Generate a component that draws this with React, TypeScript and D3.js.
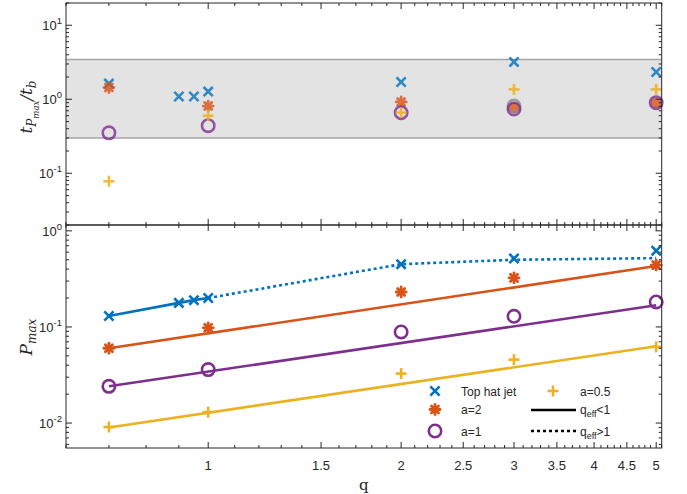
import React from "react";
import * as d3 from "d3";

// ---------- data ----------
const xTickValues = [1, 1.5, 2, 2.5, 3, 3.5, 4, 4.5, 5];
const xTickLabels = ["1", "1.5", "2", "2.5", "3", "3.5", "4", "4.5", "5"];

// top panel: t_Pmax / t_b
const topBlueQ = [0.7, 0.9, 0.95, 1, 2, 3, 5];
const topBlue = [1.63, 1.09, 1.09, 1.27, 1.71, 3.2, 2.34];
const topQ = [0.7, 1, 2, 3, 5];
const topOrange = [1.44, 0.81, 0.92, 0.77, 0.9];
const topPurple = [0.352, 0.44, 0.66, 0.74, 0.9];
const topYellow = [0.078, 0.6, 0.66, 1.36, 1.36];
const topGrayQ = [3];
const topGray = [0.81];
const bandRange = [0.3, 3.45];

// bottom panel: P_max
const botBlueQ = [0.7, 0.9, 0.95, 1, 2, 3, 5];
const botBlue = [0.13, 0.178, 0.19, 0.2, 0.45, 0.515, 0.62];
const botQ = [0.7, 1, 2, 3, 5];
const botOrange = [0.06, 0.098, 0.231, 0.324, 0.44];
const botPurple = [0.0241, 0.036, 0.0887, 0.129, 0.182];
const botYellow = [0.0091, 0.013, 0.0327, 0.0457, 0.062];

const blueSolidQ = [0.7, 0.9, 0.95, 1];
const blueSolid = [0.13, 0.178, 0.19, 0.2];
const blueDotQ = [1, 2, 3, 5];
const blueDot = [0.2, 0.45, 0.5, 0.52];
const fitQ = [0.7, 5];
const orangeFit = [0.06, 0.43];
const purpleFit = [0.0241, 0.168];
const yellowFit = [0.009, 0.063];

const legendLabels = ["Top hat jet", "a=2", "a=1", "a=0.5"];

// ---------- styles ----------
const BLUE = "#0072BD";
const ORANGE = "#D95319";
const YELLOW = "#EDB120";
const PURPLE = "#7E2F8E";
const FONT = "'Liberation Sans', Arial, sans-serif";
const SERIF = "'DejaVu Serif', 'Liberation Serif', serif";

const W = 687;
const H = 494;
const L = 66;
const R = 661.7;
const T1 = 3;
const B1 = 225;
const T2 = 225;
const B2 = 448;

const x = d3.scaleLog().domain([0.6, 5.1]).range([L, R]);
const yTop = d3.scaleLog().domain([0.02, 20]).range([B1, T1]);
const yBot = d3.scaleLog().domain([0.0055, 1.15]).range([B2, T2]);

type MarkerKind = "x" | "o" | "+" | "*" | "dot";

function Marker({ kind, cx, cy, color, opacity = 1, fill = "none" }: { kind: MarkerKind; cx: number; cy: number; color: string; opacity?: number; fill?: string }) {
  const s = 4.6;
  const sw = 2.6;
  if (kind === "x") {
    return (
      <g stroke={color} strokeWidth={sw} opacity={opacity}>
        <line x1={cx - s} y1={cy - s} x2={cx + s} y2={cy + s} />
        <line x1={cx - s} y1={cy + s} x2={cx + s} y2={cy - s} />
      </g>
    );
  }
  if (kind === "+") {
    const p = 5.5;
    return (
      <g stroke={color} strokeWidth={sw} opacity={opacity}>
        <line x1={cx - p} y1={cy} x2={cx + p} y2={cy} />
        <line x1={cx} y1={cy - p} x2={cx} y2={cy + p} />
      </g>
    );
  }
  if (kind === "o") {
    return <circle cx={cx} cy={cy} r={6.2} fill={fill} stroke={color} strokeWidth={2.6} opacity={opacity} />;
  }
  if (kind === "dot") {
    return <circle cx={cx} cy={cy} r={5.5} fill={color} opacity={opacity} />;
  }
  // asterisk
  const a = 5;
  const d = a * 0.7071;
  return (
    <g stroke={color} strokeWidth={2.8} opacity={opacity} strokeLinecap="round">
      <line x1={cx - a} y1={cy} x2={cx + a} y2={cy} />
      <line x1={cx} y1={cy - a} x2={cx} y2={cy + a} />
      <line x1={cx - d} y1={cy - d} x2={cx + d} y2={cy + d} />
      <line x1={cx - d} y1={cy + d} x2={cx + d} y2={cy - d} />
      <circle cx={cx} cy={cy} r={3} fill={color} stroke="none" />
    </g>
  );
}

function LogYAxis({ scale, top, bottom, decades }: { scale: d3.ScaleLogarithmic<number, number>; top: number; bottom: number; decades: number[] }) {
  const [d0, d1] = scale.domain();
  const minors: number[] = [];
  for (let e = Math.floor(Math.log10(d0)); e <= Math.ceil(Math.log10(d1)); e++) {
    for (let m = 1; m <= 9; m++) {
      const v = m * Math.pow(10, e);
      if (v >= d0 && v <= d1) minors.push(v);
    }
  }
  return (
    <g>
      {minors.map((v, i) => {
        const y = scale(v);
        const major = decades.some((dd) => Math.abs(dd - v) < 1e-9);
        const len = major ? 6 : 3;
        return (
          <g key={i} stroke="#262626" strokeWidth={1}>
            <line x1={L} x2={L + len} y1={y} y2={y} />
            <line x1={R} x2={R - len} y1={y} y2={y} />
          </g>
        );
      })}
      {decades.map((v, i) => {
        const y = scale(v);
        const e = Math.round(Math.log10(v));
        return (
          <text key={"l" + i} x={62} y={y + 5} textAnchor="end" fontFamily={FONT} fontSize={13} fill="#262626">
            10
            <tspan dy={-6} fontSize={9.5}>{String(e)}</tspan>
          </text>
        );
      })}
    </g>
  );
}

function XTicks({ yB, yT }: { yB: number; yT: number }) {
  const minors: number[] = [];
  for (let k = 6; k <= 51; k++) minors.push(k / 10);
  return (
    <g stroke="#262626" strokeWidth={1}>
      {minors.map((v, i) => {
        const major = xTickValues.some((t) => Math.abs(t - v) < 1e-9);
        const len = major ? 6 : 3;
        const xx = x(v);
        return (
          <g key={i}>
            <line x1={xx} x2={xx} y1={yB} y2={yB - len} />
            <line x1={xx} x2={xx} y1={yT} y2={yT + len} />
          </g>
        );
      })}
    </g>
  );
}

export default function App() {
  const lineTop = d3.line<[number, number]>().x((d) => x(d[0])).y((d) => yBot(d[1]));
  const zip = (q: number[], v: number[]) => q.map((qq, i) => [qq, v[i]] as [number, number]);

  return (
    <svg width={W} height={H} style={{ position: "absolute", left: 0, top: 0, background: "#fff" }}>
      {/* ---------- top panel ---------- */}
      <rect x={L} y={T1} width={R - L} height={B1 - T1} fill="#fff" />
      <rect x={L} y={yTop(bandRange[1])} width={R - L} height={yTop(bandRange[0]) - yTop(bandRange[1])} fill="#e3e3e3" />
      <line x1={L} x2={R} y1={yTop(bandRange[1])} y2={yTop(bandRange[1])} stroke="#a6a6a6" strokeWidth={1.5} />
      <line x1={L} x2={R} y1={yTop(bandRange[0])} y2={yTop(bandRange[0])} stroke="#a6a6a6" strokeWidth={1.5} />

      {topBlueQ.map((q, i) => (
        <Marker key={"tb" + i} kind="x" cx={x(q)} cy={yTop(topBlue[i])} color={BLUE} opacity={0.8} />
      ))}
      {topQ.map((q, i) => (
        <Marker key={"to" + i} kind={q >= 3 ? "dot" : "*"} cx={x(q)} cy={yTop(topOrange[i])} color={ORANGE} opacity={0.8} />
      ))}
      {topGrayQ.map((q, i) => (
        <Marker key={"tg" + i} kind="o" cx={x(q)} cy={yTop(topGray[i])} color="#8a8a8a" opacity={0.8} />
      ))}
      {topQ.map((q, i) => (
        <Marker key={"tp" + i} kind="o" cx={x(q)} cy={yTop(topPurple[i])} color={PURPLE} opacity={0.8} />
      ))}
      {topQ.map((q, i) => (
        <Marker key={"ty" + i} kind="+" cx={x(q)} cy={yTop(topYellow[i])} color={YELLOW} opacity={0.85} />
      ))}
      <LogYAxis scale={yTop} top={T1} bottom={B1} decades={[0.1, 1, 10]} />
      <XTicks yB={B1} yT={T1} />
      <rect x={L} y={T1} width={R - L} height={B1 - T1} fill="none" stroke="#262626" strokeWidth={1} />

      {/* ---------- bottom panel ---------- */}
      <path d={lineTop(zip(fitQ, yellowFit)) || ""} stroke={YELLOW} strokeWidth={2.6} fill="none" />
      <path d={lineTop(zip(fitQ, purpleFit)) || ""} stroke={PURPLE} strokeWidth={2.6} fill="none" />
      <path d={lineTop(zip(fitQ, orangeFit)) || ""} stroke={ORANGE} strokeWidth={2.6} fill="none" />
      <path d={lineTop(zip(blueSolidQ, blueSolid)) || ""} stroke={BLUE} strokeWidth={2.6} fill="none" />
      <path d={lineTop(zip(blueDotQ, blueDot)) || ""} stroke={BLUE} strokeWidth={2.6} fill="none" strokeDasharray="3,3" />

      {botBlueQ.map((q, i) => (
        <Marker key={"bb" + i} kind="x" cx={x(q)} cy={yBot(botBlue[i])} color={BLUE} />
      ))}
      {botQ.map((q, i) => (
        <Marker key={"bo" + i} kind="*" cx={x(q)} cy={yBot(botOrange[i])} color={ORANGE} />
      ))}
      {botQ.map((q, i) => (
        <Marker key={"bp" + i} kind="o" cx={x(q)} cy={yBot(botPurple[i])} color={PURPLE} />
      ))}
      {botQ.map((q, i) => (
        <Marker key={"by" + i} kind="+" cx={x(q)} cy={yBot(botYellow[i])} color={YELLOW} />
      ))}

      <LogYAxis scale={yBot} top={T2} bottom={B2} decades={[0.01, 0.1, 1]} />
      <XTicks yB={B2} yT={T2} />
      <rect x={L} y={T2} width={R - L} height={B2 - T2} fill="none" stroke="#262626" strokeWidth={1} />

      {/* x tick labels */}
      {xTickValues.map((v, i) => (
        <text key={"xt" + i} x={x(v)} y={470} textAnchor="middle" fontFamily={FONT} fontSize={13} fill="#262626">
          {xTickLabels[i]}
        </text>
      ))}
      <text x={(L + R) / 2} y={490} textAnchor="middle" fontFamily={SERIF} fontSize={15} fill="#262626">q</text>

      {/* y labels */}
      <g transform="translate(32,107) rotate(-90)">
        <text textAnchor="middle" fontFamily={SERIF} fontStyle="italic" fontSize={17} fill="#262626">
          t<tspan dy={4} fontSize={12}>P</tspan>
          <tspan dy={3} fontSize={8.5}>max</tspan>
          <tspan dy={-7} fontSize={17}>/t</tspan>
          <tspan dy={4} fontSize={12}>b</tspan>
        </text>
      </g>
      <g transform="translate(32,337) rotate(-90)">
        <text textAnchor="middle" fontFamily={SERIF} fontStyle="italic" fontSize={17} fill="#262626">
          P<tspan dy={4} fontSize={12}>max</tspan>
        </text>
      </g>

      {/* legend */}
      <g fontFamily={FONT} fontSize={12} fill="#262626">
        <Marker kind="x" cx={435} cy={391} color={BLUE} />
        <text x={461} y={395.5}>{legendLabels[0]}</text>
        <Marker kind="*" cx={435} cy={409.5} color={ORANGE} />
        <text x={461} y={414}>{legendLabels[1]}</text>
        <Marker kind="o" cx={435} cy={431} color={PURPLE} />
        <text x={461} y={435.5}>{legendLabels[2]}</text>

        <Marker kind="+" cx={553} cy={391} color={YELLOW} />
        <text x={580} y={395.5}>{legendLabels[3]}</text>
        <line x1={531} x2={576} y1={410} y2={410} stroke="#000" strokeWidth={2.6} />
        <text x={580} y={414}>
          q<tspan dy={3} fontSize={9}>eff</tspan>
          <tspan dy={-3}>{"<1"}</tspan>
        </text>
        <line x1={531} x2={576} y1={431} y2={431} stroke="#000" strokeWidth={2.6} strokeDasharray="3,3" />
        <text x={580} y={435.5}>
          q<tspan dy={3} fontSize={9}>eff</tspan>
          <tspan dy={-3}>{">1"}</tspan>
        </text>
      </g>
    </svg>
  );
}
